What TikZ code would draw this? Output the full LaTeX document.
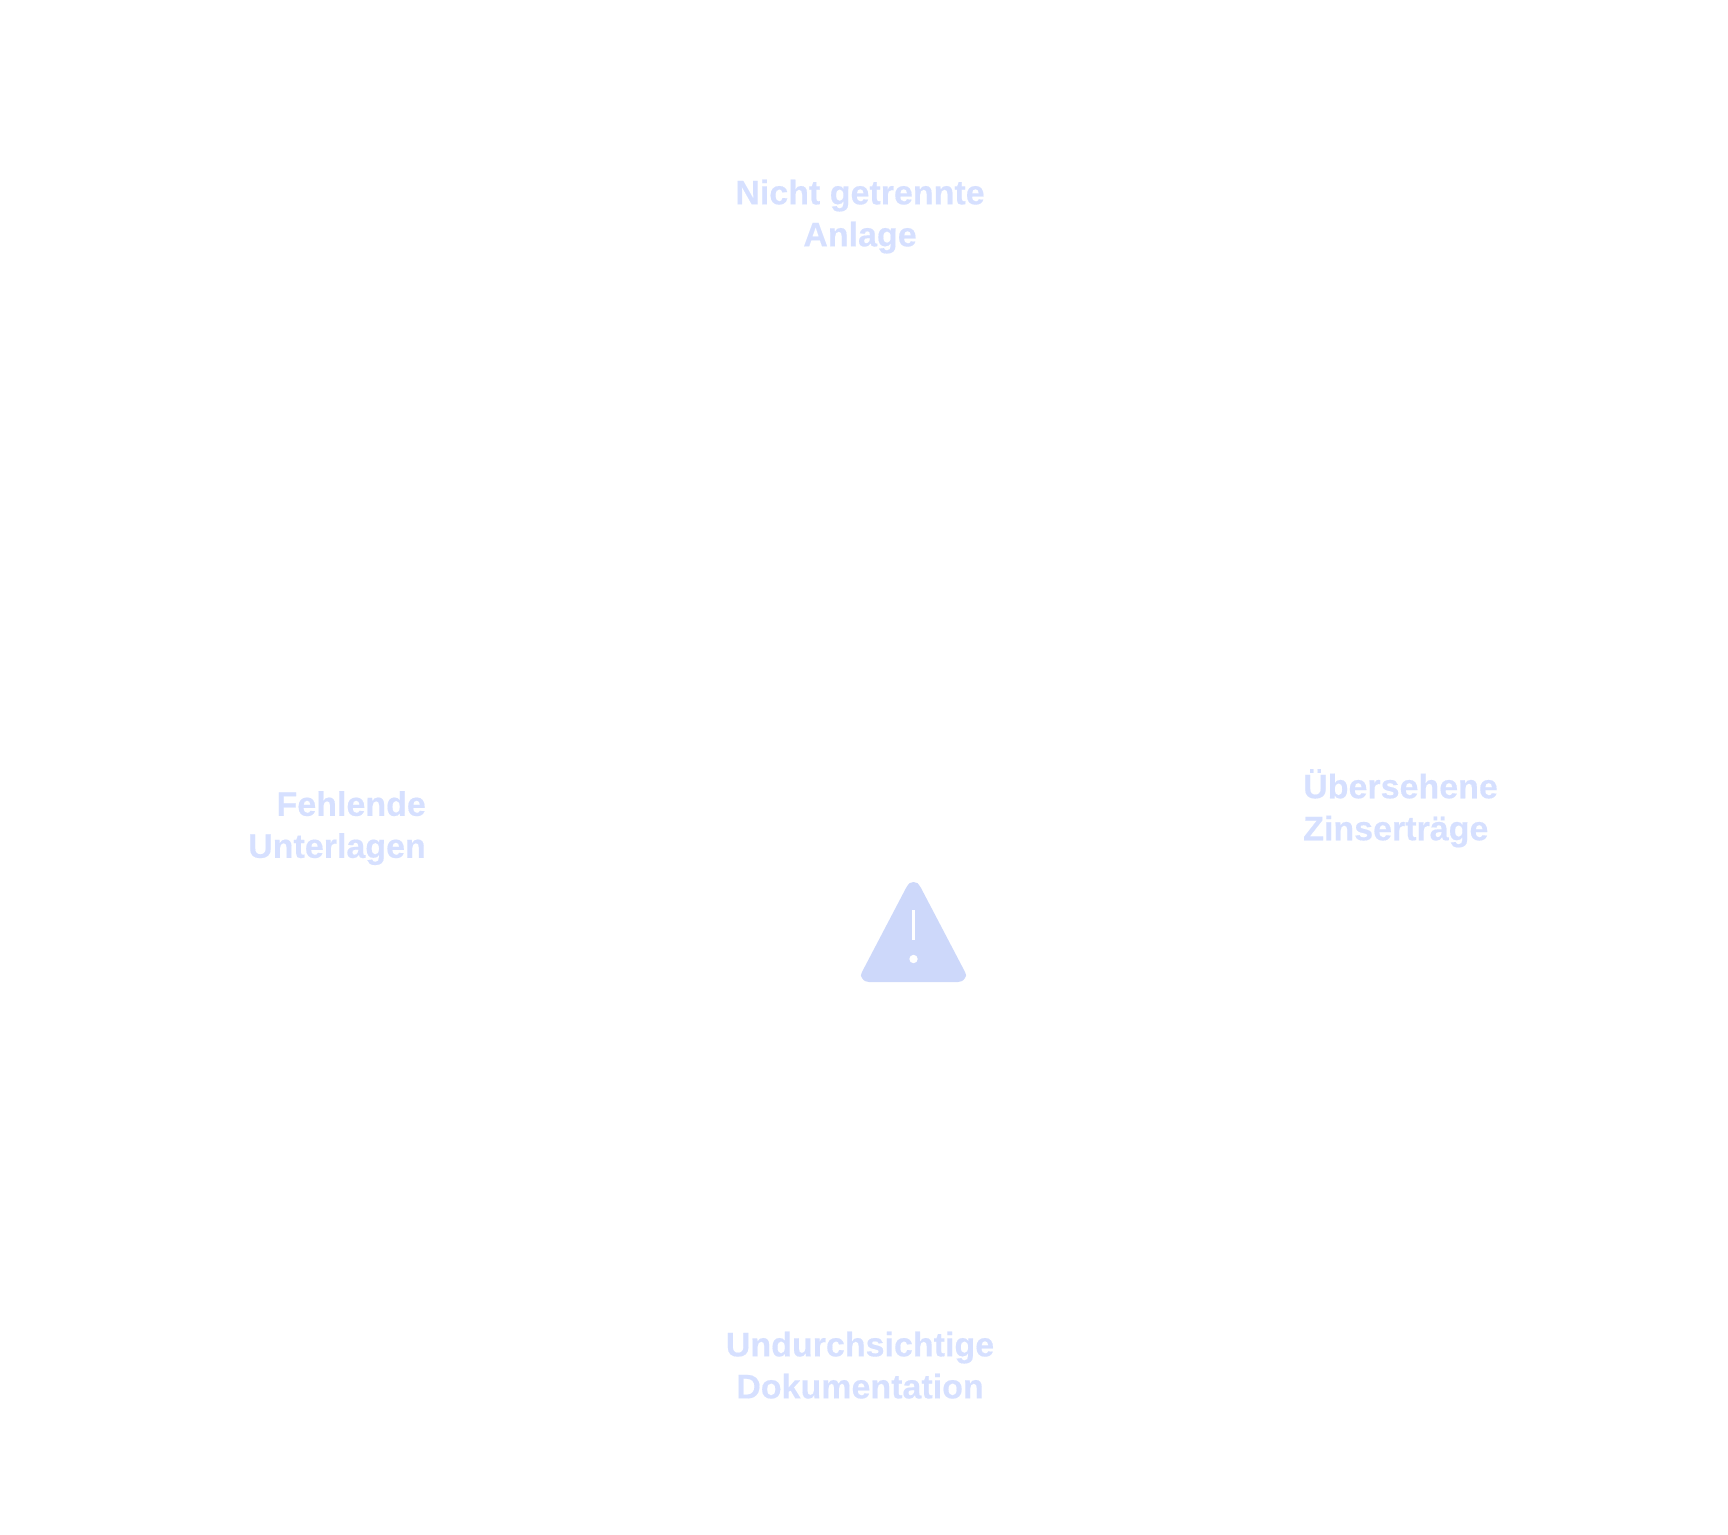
\documentclass[tikz,border=0pt]{standalone}
\usepackage{fontspec}
\setmainfont[BoldFeatures={FakeBold=0.4}]{Liberation Sans}
\definecolor{labelblue}{HTML}{D6E0FF}
\definecolor{iconblue}{HTML}{CDD8FA}

\begin{document}
\begin{tikzpicture}[x=1pt, y=-1pt,
  label/.style={inner sep=0pt, text=labelblue, font=\fontsize{34}{42}\selectfont\bfseries}]

  \useasboundingbox (0,0) rectangle (1728,1534);

  % Labels
  \node[label, align=center, anchor=north] (N1) at (860,179.5) {Nicht getrennte\\Anlage};
  \node[label, align=right, anchor=north east] (N2) at (426,791) {Fehlende\\Unterlagen};
  \node[label, align=left, anchor=north west] (N3) at (1303,769) {Übersehene\\Zinserträge};
  \node[label, align=center, anchor=north] (N4) at (860,1331.5) {Undurchsichtige\\Dokumentation};

  % Warning icon
  \fill[iconblue] (906,888) .. controls (909,883) and (910,882) .. (913.5,882)
    .. controls (917,882) and (918,883) .. (921,888)
    -- (964.5,971) .. controls (966.5,975) and (966.5,977) .. (965,978)
    .. controls (963,981) and (961,982) .. (958,982)
    -- (869,982) .. controls (866,982) and (864,981) .. (862,978)
    .. controls (860.5,977) and (860.5,975) .. (862.5,971) -- cycle;
  \fill[white] (912,910) rectangle (915,940);
  \fill[white] (913.5,959) circle (4.2);

\end{tikzpicture}
\end{document}
